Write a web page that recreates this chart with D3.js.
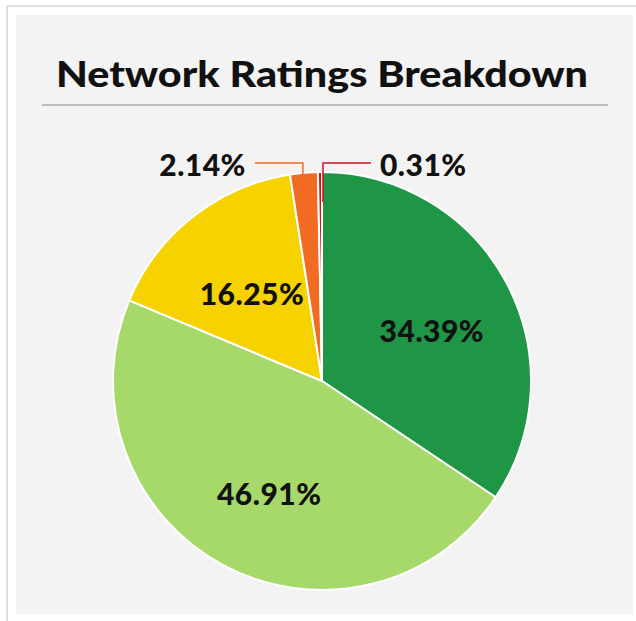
<!DOCTYPE html>
<html>
<head>
<meta charset="utf-8">
<script src="https://cdn.jsdelivr.net/npm/d3@7"></script>
<style>
  body { margin: 0; background: #fff; }
  svg { display: block; }
  text { font-family: "Lato", "Noto Sans", sans-serif; font-weight: 900; fill: #111; }
</style>
</head>
<body>
<svg></svg>
<script>
// DATA
const categories = ["A", "B", "C", "D", "E"]
const values = [34.39, 46.91, 16.25, 2.14, 0.31]
const labels = ["34.39%", "46.91%", "16.25%", "2.14%", "0.31%"]
const colors = ["#1f9646", "#a6d96a", "#f6d200", "#f26b22", "#d0101e"]
const outside = [false, false, false, true, true]

// SETUP
const svg = d3.select("svg")
  .attr("width", 636)
  .attr("height", 621)

// outer frame
svg.append("line")
  .attr("x1", 7).attr("y1", 6).attr("x2", 636).attr("y2", 6)
  .attr("stroke", "#dedede").attr("stroke-width", 2)
svg.append("line")
  .attr("x1", 7).attr("y1", 6).attr("x2", 7).attr("y2", 621)
  .attr("stroke", "#dedede").attr("stroke-width", 2)

// panel
svg.append("rect")
  .attr("x", 16).attr("y", 15)
  .attr("width", 617).attr("height", 599)
  .attr("fill", "#f3f3f3")

// title
svg.append("text")
  .attr("x", 56)
  .attr("y", 87)
  .attr("font-size", 36)
  .attr("textLength", 532)
  .attr("lengthAdjust", "spacingAndGlyphs")
  .text("Network Ratings Breakdown")

svg.append("line")
  .attr("x1", 42).attr("x2", 608)
  .attr("y1", 105).attr("y2", 105)
  .attr("stroke", "#aaaaaa").attr("stroke-width", 1.5)

// PIE
const cx = 322
const cy = 381
const r = 209

const pie = d3.pie()
  .value((d) => d.value)
  .sort(null)

const data = categories.map((c, i) => {
  return { cat: c, value: values[i], label: labels[i], color: colors[i], outside: outside[i] }
})

const arcs = pie(data)

const arc = d3.arc().innerRadius(0).outerRadius(r)
const labelArc = d3.arc().innerRadius(120).outerRadius(120)

const g = svg.append("g")
  .attr("transform", `translate(${cx}, ${cy})`)

g.selectAll("path.slice")
  .data(arcs)
  .enter()
  .append("path")
  .attr("class", "slice")
  .attr("d", arc)
  .attr("fill", (d) => d.data.color)
  .attr("stroke", "#ffffff")
  .attr("stroke-width", 2)
  .attr("stroke-linejoin", "round")

// inside labels
g.selectAll("text.inside")
  .data(arcs.filter((d) => !d.data.outside))
  .enter()
  .append("text")
  .attr("class", "inside")
  .attr("transform", (d) => {
    const p = labelArc.centroid(d)
    return `translate(${p[0] + 4}, ${p[1] + 6})`
  })
  .attr("text-anchor", "middle")
  .attr("dominant-baseline", "central")
  .attr("font-size", 30)
  .attr("letter-spacing", 0.5)
  .text((d) => d.data.label)

// outside labels with leader lines
const elbowY = -r - 9
const outs = arcs.filter((d) => d.data.outside)

outs.forEach((d, i) => {
  const a = (d.startAngle + d.endAngle) / 2
  const px = Math.sin(a) * r
  const py = -Math.cos(a) * r
  const dir = i === 0 ? -1 : 1
  const ex = dir < 0 ? px - 1 : px + 3
  const hx = ex + dir * 48

  g.append("polyline")
    .attr("points", `${ex},${py + (dir < 0 ? 3 : 30)} ${ex},${elbowY} ${hx},${elbowY}`)
    .attr("fill", "none")
    .attr("stroke", d.data.color)
    .attr("stroke-width", 1.5)

  g.append("text")
    .attr("x", hx + dir * 9)
    .attr("y", elbowY + 1)
    .attr("text-anchor", dir < 0 ? "end" : "start")
    .attr("dominant-baseline", "central")
    .attr("font-size", 30)
    .attr("letter-spacing", 0.5)
    .text(d.data.label)
})
</script>
</body>
</html>
